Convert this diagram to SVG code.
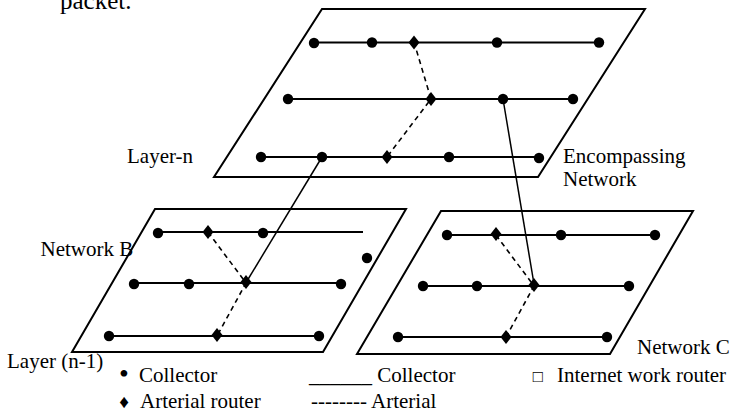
<svg xmlns="http://www.w3.org/2000/svg" xmlns:xlink="http://www.w3.org/1999/xlink" width="730" height="412" viewBox="0 0 730 412">
<style>
.plane{fill:none;stroke:#000;stroke-width:2}
.row{stroke:#000;stroke-width:2}
.link{fill:none;stroke:#000;stroke-width:1.5}
.art{fill:none;stroke:#000;stroke-width:1.6;stroke-dasharray:5 4}
text{font-family:'Liberation Serif','DejaVu Serif',serif;font-size:21px;fill:#000}
</style>
<defs>
<circle id="dot" r="5.2" fill="#000"/>
<polygon id="dia" points="0,-7 5.5,0 0,7 -5.5,0" fill="#000"/>
</defs>
<rect width="730" height="412" fill="#fff"/>
<text x="60" y="9" style="font-size:25px">packet.</text>

<g id="layer-n">
<polygon class="plane" points="322,9 645,9 538,177 214,177"/>
<line class="row" x1="314" y1="42.5" x2="599" y2="42.5"/>
<line class="row" x1="288" y1="99" x2="573" y2="99"/>
<line class="row" x1="261" y1="157" x2="539" y2="157"/>
<use href="#dot" x="314" y="43"/><use href="#dot" x="372" y="42.5"/><use href="#dot" x="497" y="42.5"/><use href="#dot" x="599" y="42.5"/>
<use href="#dia" x="414" y="42.5"/>
<use href="#dot" x="288" y="99"/><use href="#dot" x="503" y="99"/><use href="#dot" x="573" y="99"/>
<use href="#dia" x="431" y="99"/>
<use href="#dot" x="261" y="157"/><use href="#dot" x="322" y="157"/><use href="#dot" x="449" y="157"/><use href="#dot" x="539" y="158"/>
<use href="#dia" x="387" y="157"/>
<text x="127" y="163">Layer-n</text>
<text x="563" y="162.5">Encompassing</text>
<text x="563" y="186">Network</text>
</g>

<g id="network-b">
<polygon class="plane" points="155,209 406,209 323,352 72,352"/>
<line class="row" x1="158" y1="232" x2="363" y2="232"/>
<line class="row" x1="134" y1="283" x2="341" y2="283"/>
<line class="row" x1="109" y1="336" x2="319" y2="336"/>
<use href="#dot" x="158" y="233"/><use href="#dot" x="263" y="233"/>
<use href="#dia" x="208" y="232"/>
<use href="#dot" x="134" y="284"/><use href="#dot" x="189" y="284"/><use href="#dot" x="341" y="284"/>
<use href="#dia" x="246" y="282"/>
<use href="#dot" x="109" y="336"/><use href="#dot" x="319" y="336"/>
<use href="#dia" x="217" y="335"/>
<use href="#dot" x="367" y="258"/>
<text x="40.5" y="256">Network B</text>
<text x="7" y="368">Layer (n-1)</text>
</g>

<g id="network-c">
<polygon class="plane" points="441,211 693,211 610,354 357,354"/>
<line class="row" x1="447" y1="235" x2="655" y2="235"/>
<line class="row" x1="423" y1="286" x2="629" y2="286"/>
<line class="row" x1="398" y1="337" x2="607" y2="337"/>
<use href="#dot" x="447" y="235"/><use href="#dot" x="561" y="235"/><use href="#dot" x="655" y="235"/>
<use href="#dia" x="496" y="234"/>
<use href="#dot" x="423" y="286"/><use href="#dot" x="477" y="286"/><use href="#dot" x="629" y="286"/>
<use href="#dia" x="534" y="285"/>
<use href="#dot" x="398" y="337"/><use href="#dot" x="607" y="337"/>
<use href="#dia" x="506" y="337"/>
<text x="637" y="354">Network C</text>
</g>

<g id="connectors">
<path class="art" d="M414,42 L431,99 L387,157"/>
<path class="art" d="M208,232 L246,283 L217,336"/>
<path class="art" d="M496,235 L534,286 L506,337"/>
<line class="link" x1="322" y1="157" x2="247" y2="281"/>
<line class="link" x1="503" y1="99" x2="534" y2="284"/>
</g>

<g id="legend">
<text x="124" y="383" text-anchor="middle" style="font-size:28px">•</text>
<text x="139" y="382">Collector</text>
<text x="124" y="408" text-anchor="middle" style="font-size:19px">♦</text>
<text x="140" y="408">Arterial router</text>
<text x="309" y="382">______ Collector</text>
<text x="311" y="408">-------- Arterial</text>
<text x="538" y="382" text-anchor="middle" fill="#aaa" style="font-size:17px">□</text>
<text x="557" y="382">Internet work router</text>
</g>
</svg>
